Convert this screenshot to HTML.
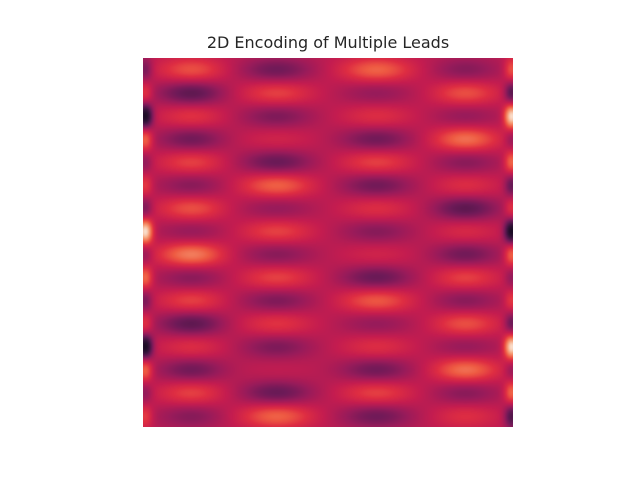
<!DOCTYPE html>
<html><head><meta charset="utf-8"><style>
body{margin:0;width:640px;height:480px;background:#fff;position:relative;overflow:hidden;font-family:"DejaVu Sans","Liberation Sans",sans-serif}
#title{position:absolute;left:0;width:656px;top:33px;text-align:center;font-size:16px;color:#262626}
#hm{position:absolute;left:143px;top:58px}
</style></head><body>
<div id="title">2D Encoding of Multiple Leads</div>
<canvas id="hm" width="370" height="369"></canvas>
<script>
const colLeftEdge = [0.3,0.65,0.0,0.75,0.35,0.65,0.3,1.0,0.35,0.75,0.3,0.65,0.0,0.75,0.35,0.65];
const colLead1 = [0.68,0.25,0.62,0.3,0.65,0.35,0.68,0.38,0.78,0.35,0.65,0.25,0.6,0.3,0.65,0.35];
const colLead2 = [0.3,0.65,0.33,0.55,0.28,0.72,0.38,0.65,0.35,0.65,0.33,0.62,0.33,0.5,0.28,0.72];
const colLead3 = [0.72,0.38,0.6,0.3,0.65,0.3,0.6,0.35,0.55,0.28,0.7,0.38,0.6,0.3,0.65,0.3];
const colLead4 = [0.35,0.68,0.38,0.75,0.35,0.6,0.25,0.58,0.3,0.65,0.35,0.68,0.38,0.75,0.35,0.6];
const colRightEdge = [0.7,0.2,1.0,0.35,0.75,0.25,0.65,0.0,0.75,0.35,0.65,0.25,1.0,0.35,0.75,0.2];
const columns = [colLeftEdge,colLead1,colLead2,colLead3,colLead4,colRightEdge];
const colPos = [0.005,0.13,0.36,0.63,0.87,0.995];
const colWidth = [0.02,0.09,0.1,0.1,0.09,0.02];
const colGain = [1.0,1.0,1.0,1.0,1.0,1.0];
const base = 0.48;
const W=370,H=369,nRows=16;
const xScale=f=>f*W;
const yScale=r=>(r+0.5)/nRows*H;
const stops=[[0,[20,10,30]],[0.15,[55,20,60]],[0.3,[110,26,88]],[0.4,[155,27,90]],[0.5,[195,28,80]],[0.6,[222,45,66]],[0.7,[238,90,66]],[0.85,[246,160,120]],[1,[250,235,221]]];
function cmap(v){v=Math.max(0,Math.min(1,v));for(let i=1;i<stops.length;i++){if(v<=stops[i][0]){const a=stops[i-1],b=stops[i],t=(v-a[0])/(b[0]-a[0]);return a[1].map((c,k)=>c+(b[1][k]-c)*t);}}return stops[stops.length-1][1];}
const cv=document.getElementById('hm'),ctx=cv.getContext('2d'),img=ctx.createImageData(W,H);
const sy=H/nRows*0.55;
for(let y=0;y<H;y++){for(let x=0;x<W;x++){let v=base;
for(let c=0;c<columns.length;c++){const dx=(x-xScale(colPos[c]))/(colWidth[c]*W);if(Math.abs(dx)>4)continue;const gx=Math.exp(-dx*dx);
for(let r=0;r<nRows;r++){const dy=(y-yScale(r))/sy;if(Math.abs(dy)>4)continue;v+=(columns[c][r]-base)*colGain[c]*gx*Math.exp(-dy*dy);}}
const col=cmap(v),i=(y*W+x)*4;img.data[i]=col[0];img.data[i+1]=col[1];img.data[i+2]=col[2];img.data[i+3]=255;}}
ctx.putImageData(img,0,0);
</script>
</body></html>
